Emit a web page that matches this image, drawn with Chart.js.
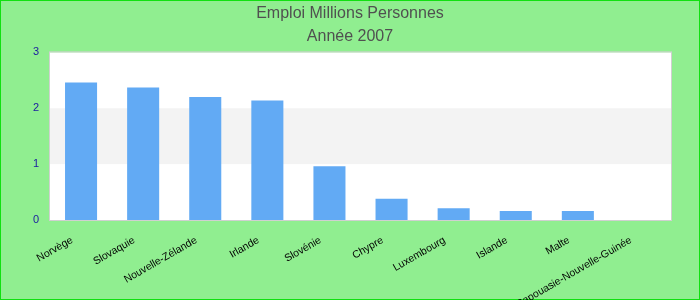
<!DOCTYPE html>
<html lang="fr">
<head>
    <meta charset="UTF-8">
    <script src="https://cdn.jsdelivr.net/npm/chart.js@4.4.1/dist/chart.umd.min.js"></script>
    <title>Emploi Millions Personnes</title>
    <style>
        body { margin: 0; background: #90ee90; }
        #wrap { width: 700px; height: 300px; }
    </style>
</head>
<body>
    <div id="wrap"><canvas id="chart" width="700" height="300"></canvas></div>
    <script>
        const pays = ['Norvège', 'Slovaquie', 'Nouvelle-Zélande', 'Irlande', 'Slovénie',
                      'Chypre', 'Luxembourg', 'Islande', 'Malte', 'Papouasie-Nouvelle-Guinée'];
        const emploi = [2.46, 2.37, 2.20, 2.14, 0.96, 0.38, 0.21, 0.16, 0.16, 0];
        const titre = ['Emploi Millions Personnes', 'Année 2007'];
        const bandes = [[1, 2]];

        // fond vert, bordure, zone blanche et bandes grises
        const fond = {
            id: 'fond',
            beforeDraw(chart) {
                const { ctx, chartArea: a, scales } = chart;
                ctx.save();
                ctx.fillStyle = '#90ee90';
                ctx.fillRect(0, 0, chart.width, chart.height);
                ctx.strokeStyle = '#11e011';
                ctx.lineWidth = 1;
                ctx.strokeRect(0.5, 0.5, chart.width - 1, chart.height - 1);
                ctx.fillStyle = '#ffffff';
                ctx.fillRect(a.left, a.top, a.right - a.left, a.bottom - a.top);
                ctx.fillStyle = '#f3f3f3';
                bandes.forEach(([lo, hi]) => {
                    const y1 = scales.y.getPixelForValue(hi);
                    const y2 = scales.y.getPixelForValue(lo);
                    ctx.fillRect(a.left, y1, a.right - a.left, y2 - y1);
                });
                ctx.restore();
            },
            afterDatasetsDraw(chart) {
                const { ctx, chartArea: a } = chart;
                ctx.save();
                ctx.strokeStyle = '#d0d0d0';
                ctx.lineWidth = 1;
                ctx.strokeRect(a.left - 0.5, a.top - 0.5, a.right - a.left + 1, a.bottom - a.top + 1);
                ctx.restore();
            }
        };

        new Chart(document.getElementById('chart'), {
            type: 'bar',
            data: {
                labels: pays,
                datasets: [{
                    data: emploi,
                    backgroundColor: '#62aaf4',
                    barPercentage: 0.516,
                    categoryPercentage: 1
                }]
            },
            options: {
                responsive: false,
                animation: false,
                layout: { padding: { top: 2, right: 0, left: 0, bottom: 0 } },
                plugins: {
                    legend: { display: false },
                    tooltip: { enabled: false },
                    title: {
                        display: true,
                        text: titre,
                        color: '#505050',
                        font: { family: 'Liberation Sans', size: 16, weight: 'normal', lineHeight: 1.45 },
                        padding: { top: 0, bottom: 4 }
                    }
                },
                scales: {
                    x: {
                        grid: { display: false, drawTicks: false },
                        border: { display: false },
                        ticks: {
                            color: '#000000',
                            font: { family: 'Liberation Sans', size: 10.5 },
                            minRotation: 30,
                            maxRotation: 30,
                            autoSkip: false,
                            labelOffset: -9,
                            padding: 14
                        },
                        afterFit: (scale) => { scale.height = 80; }
                    },
                    y: {
                        min: 0,
                        max: 3,
                        grid: { display: false, drawTicks: false },
                        border: { display: false },
                        ticks: {
                            stepSize: 1,
                            color: '#1a1aa0',
                            font: { family: 'Liberation Sans', size: 11 },
                            padding: 11
                        },
                        afterFit: (scale) => { scale.width = 50; }
                    },
                    droite: {
                        position: 'right',
                        grid: { display: false, drawTicks: false },
                        border: { display: false },
                        ticks: { display: false },
                        afterFit: (scale) => { scale.width = 29; }
                    }
                }
            },
            plugins: [fond]
        });
    </script>
</body>
</html>
